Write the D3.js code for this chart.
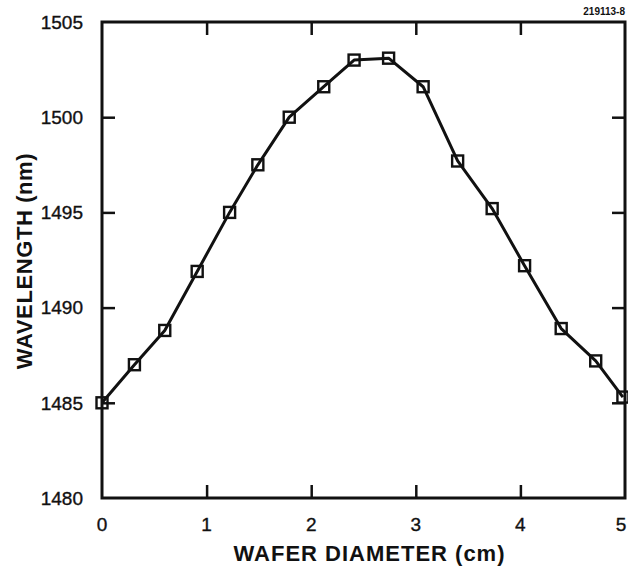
<!DOCTYPE html>
<html>
<head>
<meta charset="utf-8">
<script src="https://cdn.jsdelivr.net/npm/d3@7"></script>
<style>
  html, body { margin: 0; padding: 0; background: #fff; }
  svg { display: block; }
  text { font-family: "Liberation Sans", Arial, Helvetica, sans-serif; fill: #111; }
</style>
</head>
<body>
<svg id="chart" width="628" height="570"></svg>
<script>
// Data
const diameterCm = [0, 0.31, 0.60, 0.91, 1.22, 1.49, 1.79, 2.12, 2.41, 2.74, 3.07, 3.40, 3.73, 4.04, 4.39, 4.72, 4.98];
const wavelengthNm = [1485.0, 1487.0, 1488.8, 1491.9, 1495.0, 1497.5, 1500.0, 1501.6, 1503.0, 1503.1, 1501.6, 1497.7, 1495.2, 1492.2, 1488.9, 1487.2, 1485.3];
const xTicks = [0, 1, 2, 3, 4, 5];
const yTicks = [1480, 1485, 1490, 1495, 1500, 1505];
const xTitle = "WAFER DIAMETER (cm)";
const yTitle = "WAVELENGTH (nm)";
const figureId = "219113-8";

(function () {
const svg = d3.select("#chart");
const mLeft = 102, mRight = 625, mTop = 22, mBottom = 498;

const x = d3.scaleLinear().domain([0, 5]).range([mLeft, mRight]);
const y = d3.scaleLinear().domain([1480, 1505]).range([mBottom, mTop]);

const ink = "#111";
const tickLen = 13;

const innerX = xTicks.slice(1, -1);
const innerY = yTicks.slice(1, -1);

function styleTicks(g) {
  g.select(".domain").remove();
  g.selectAll("line").attr("stroke", ink).attr("stroke-width", 2.5);
}

svg.append("g").attr("transform", `translate(0,${mBottom})`)
  .call(d3.axisTop(x).tickValues(innerX).tickSize(tickLen).tickFormat(""))
  .call(styleTicks);

svg.append("g").attr("transform", `translate(0,${mTop})`)
  .call(d3.axisBottom(x).tickValues(innerX).tickSize(tickLen).tickFormat(""))
  .call(styleTicks);

svg.append("g").attr("transform", `translate(${mLeft},0)`)
  .call(d3.axisRight(y).tickValues(innerY).tickSize(tickLen).tickFormat(""))
  .call(styleTicks);

svg.append("g").attr("transform", `translate(${mRight},0)`)
  .call(d3.axisLeft(y).tickValues(innerY).tickSize(tickLen).tickFormat(""))
  .call(styleTicks);

// Frame
svg.append("rect")
  .attr("x", mLeft).attr("y", mTop)
  .attr("width", mRight - mLeft).attr("height", mBottom - mTop)
  .attr("fill", "none").attr("stroke", ink).attr("stroke-width", 3);

// Tick labels
svg.append("g").selectAll("text").data(xTicks).join("text")
  .attr("x", d => Math.min(x(d), 621)).attr("y", 531)
  .attr("text-anchor", "middle")
  .attr("font-size", 19)
  .attr("stroke", ink).attr("stroke-width", 0.35)
  .text(d => d);

svg.append("g").selectAll("text").data(yTicks).join("text")
  .attr("x", 83).attr("y", d => y(d))
  .attr("dy", "0.36em")
  .attr("text-anchor", "end")
  .attr("font-size", 19)
  .attr("stroke", ink).attr("stroke-width", 0.35)
  .text(d => d);

// Axis titles
svg.append("text")
  .attr("x", (mLeft + mRight) / 2 + 6).attr("y", 561)
  .attr("text-anchor", "middle")
  .attr("font-size", 22).attr("font-weight", "bold")
  .attr("letter-spacing", 1.0)
  .text(xTitle);

svg.append("text")
  .attr("transform", `translate(32,261) rotate(-90)`)
  .attr("text-anchor", "middle")
  .attr("font-size", 22).attr("font-weight", "bold")
  .attr("letter-spacing", 0.6)
  .text(yTitle);

// Figure id
svg.append("text")
  .attr("x", mRight).attr("y", 15)
  .attr("text-anchor", "end")
  .attr("font-size", 10).attr("font-weight", "bold")
  .text(figureId);

// Data line
const pts = diameterCm.map((d, i) => [d, wavelengthNm[i]]);
svg.append("path")
  .datum(pts)
  .attr("fill", "none")
  .attr("stroke", ink)
  .attr("stroke-width", 3)
  .attr("stroke-linejoin", "round")
  .attr("d", d3.line().x(d => x(d[0])).y(d => y(d[1])));

// Hollow square markers
const s = 11;
svg.append("g").selectAll("rect").data(pts).join("rect")
  .attr("x", d => x(d[0]) - s / 2)
  .attr("y", d => y(d[1]) - s / 2)
  .attr("width", s).attr("height", s)
  .attr("fill", "none")
  .attr("stroke", ink)
  .attr("stroke-width", 2.4);
})();
</script>
</body>
</html>
